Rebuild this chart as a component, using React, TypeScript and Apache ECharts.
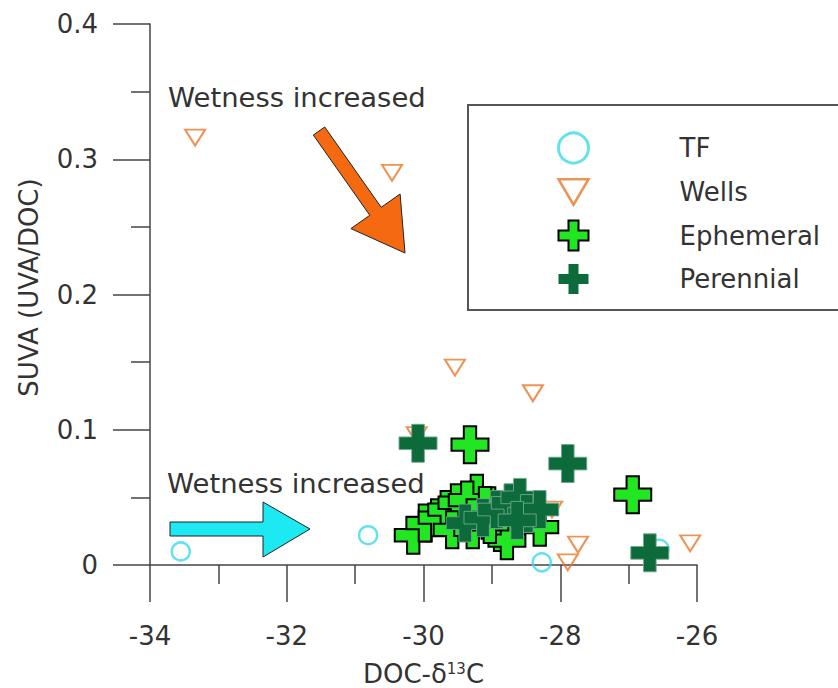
import React, { useEffect, useRef } from "react";
import * as echarts from "echarts";

// ---- data ----
const seriesNames = ["TF", "Wells", "Ephemeral", "Perennial"];

const tfData: number[][] = [
  [-33.55, 0.010],
  [-30.81, 0.022],
  [-28.27, 0.002],
  [-26.55, 0.012],
];

const wellsData: number[][] = [
  [-33.34, 0.316],
  [-30.46, 0.290],
  [-29.54, 0.146],
  [-28.40, 0.127],
  [-30.10, 0.096],
  [-28.12, 0.041],
  [-27.74, 0.015],
  [-27.89, 0.002],
  [-26.10, 0.016],
];

const ephemeralData: number[][] = [
  [-29.32, 0.089],
  [-26.94, 0.052],
  [-30.15, 0.022],
  [-29.22, 0.053],
  [-29.98, 0.031],
  [-29.80, 0.035],
  [-29.66, 0.041],
  [-29.51, 0.046],
  [-29.36, 0.048],
  [-29.58, 0.026],
  [-29.28, 0.026],
  [-28.88, 0.024],
  [-28.78, 0.018],
  [-28.30, 0.028],
  [-29.03, 0.030],
  [-29.10, 0.044],
];

const perennialData: number[][] = [
  [-30.08, 0.090],
  [-27.89, 0.075],
  [-26.69, 0.009],
  [-29.39, 0.031],
  [-29.13, 0.035],
  [-28.93, 0.041],
  [-28.73, 0.046],
  [-28.59, 0.050],
  [-28.49, 0.038],
  [-28.30, 0.041],
  [-28.63, 0.033],
];

const xRange = [-34, -26];
const yRange = [0, 0.4];

const PLUS = "path://M1,0 H2 V1 H3 V2 H2 V3 H1 V2 H0 V1 H1 Z";
const TRI_DOWN = "path://M0,0 L2,0 L1,1.7 Z";

const FONT = "DejaVu Sans, Liberation Sans, Arial, sans-serif";
const FS = 26;
const TXT = "#333";
const AX = "#444";

export default function App() {
  const ref = useRef<HTMLDivElement>(null);

  useEffect(() => {
    if (!ref.current) return;
    const chart = echarts.init(ref.current, undefined, { renderer: "svg" });

    const cyan = "#3FD9E8";
    const orange = "#E8782A";
    const green = "#22E622";
    const dark = "#0C6A3B";

    chart.setOption({
      animation: false,
      backgroundColor: "#fff",
      textStyle: { fontFamily: FONT },
      grid: {
        left: 150,
        right: 141,
        top: 24,
        bottom: 123,
        containLabel: false,
        outerBoundsMode: "none",
      },
      xAxis: {
        type: "value",
        min: xRange[0],
        max: xRange[1],
        interval: 2,
        name: "DOC-δ{sup|13}C",
        nameLocation: "middle",
        nameGap: 96,
        nameTextStyle: {
          color: TXT,
          fontSize: FS,
          fontFamily: FONT,
          lineHeight: 26,
          rich: { sup: { fontSize: 15, lineHeight: 26, verticalAlign: "top", color: TXT, fontFamily: FONT } },
        },
        axisLine: { show: true, onZero: false, lineStyle: { color: AX, width: 1.5 } },
        axisTick: { show: true, inside: false, length: 37, lineStyle: { color: AX, width: 1.5 } },
        minorTick: { show: true, splitNumber: 2, length: 19, lineStyle: { color: AX, width: 1.5 } },
        splitLine: { show: false },
        axisLabel: { color: TXT, fontSize: FS, fontFamily: FONT, margin: 58 },
      },
      yAxis: {
        type: "value",
        min: yRange[0],
        max: yRange[1],
        interval: 0.1,
        name: "SUVA (UVA/DOC)",
        nameLocation: "middle",
        nameGap: 108,
        nameTextStyle: { color: TXT, fontSize: FS, fontFamily: FONT, padding: [0, 0, 0, 14] },
        axisLine: { show: true, onZero: false, lineStyle: { color: AX, width: 1.5 } },
        axisTick: { show: true, inside: false, length: 37, lineStyle: { color: AX, width: 1.5 } },
        minorTick: { show: true, splitNumber: 2, length: 19, lineStyle: { color: AX, width: 1.5 } },
        splitLine: { show: false },
        axisLabel: { color: TXT, fontSize: FS, fontFamily: FONT, margin: 52 },
      },
      legend: {
        orient: "vertical",
        left: 557,
        top: 131.5,
        padding: 0,
        itemWidth: 30,
        itemHeight: 30,
        itemGap: 12.5,
        symbolKeepAspect: true,
        selectedMode: false,
        formatter: (name: string) => `{t|${name}}`,
        textStyle: {
          color: TXT,
          fontSize: FS,
          fontFamily: FONT,
          lineHeight: 30,
          rich: { t: { color: TXT, fontSize: FS, fontFamily: FONT, lineHeight: 30, padding: [0, 0, 0, 86] } },
        },
        data: [
          { name: seriesNames[0], icon: "circle", itemStyle: { color: "rgba(255,255,255,0)", borderColor: cyan, borderWidth: 3 } },
          { name: seriesNames[1], icon: TRI_DOWN, itemStyle: { color: "rgba(255,255,255,0)", borderColor: orange, borderWidth: 2.5 } },
          { name: seriesNames[2], icon: PLUS, itemStyle: { color: green, borderColor: "#000", borderWidth: 2 } },
          { name: seriesNames[3], icon: PLUS, itemStyle: { color: dark, borderColor: dark, borderWidth: 0 } },
        ],
      },
      graphic: [
        {
          type: "rect",
          z: 0,
          shape: { x: 468, y: 105, width: 400, height: 205 },
          style: { fill: "rgba(0,0,0,0)", stroke: "#555", lineWidth: 2 },
        },
        {
          type: "text",
          x: 168,
          y: 85,
          scaleX: 1.055,
          style: { text: "Wetness increased", fill: TXT, font: `${FS}px ${FONT}`, verticalAlign: "top" },
        },
        {
          type: "text",
          x: 167,
          y: 471,
          scaleX: 1.055,
          style: { text: "Wetness increased", fill: TXT, font: `${FS}px ${FONT}`, verticalAlign: "top" },
        },
        {
          type: "polygon",
          z: 5,
          shape: {
            points: [
              [324.7, 127], [381.2, 207.3], [400.1, 194], [405, 253],
              [350.9, 228.6], [369.8, 215.3], [313.3, 135],
            ],
          },
          style: { fill: "#F56A10", stroke: "#222", lineWidth: 1 },
        },
        {
          type: "polygon",
          z: 5,
          shape: {
            points: [
              [170, 522], [263, 522], [263, 502], [310, 529],
              [263, 557], [263, 536], [170, 536],
            ],
          },
          style: { fill: "#1CE9F2", stroke: "#222", lineWidth: 1 },
        },
      ],
      series: [
        {
          name: seriesNames[0],
          type: "scatter",
          data: tfData,
          symbol: "circle",
          symbolSize: 18,
          itemStyle: { color: "rgba(255,255,255,0)", borderColor: cyan, borderWidth: 2.5 },
          z: 2,
        },
        {
          name: seriesNames[1],
          type: "scatter",
          data: wellsData,
          symbol: TRI_DOWN,
          symbolSize: [20, 16],
          itemStyle: { color: "rgba(255,255,255,0)", borderColor: orange, borderWidth: 2 },
          z: 2,
        },
        {
          name: seriesNames[2],
          type: "scatter",
          data: ephemeralData,
          symbol: PLUS,
          symbolSize: 37,
          itemStyle: { color: green, borderColor: "#000", borderWidth: 2, opacity: 1 },
          z: 3,
        },
        {
          name: seriesNames[3],
          type: "scatter",
          data: perennialData,
          symbol: PLUS,
          symbolSize: 38,
          itemStyle: { color: dark, borderColor: "rgba(110,170,140,0.9)", borderWidth: 1, opacity: 1 },
          z: 4,
        },
      ],
    });

    return () => chart.dispose();
  }, []);

  return (
    <div
      ref={ref}
      style={{ position: "fixed", left: 0, top: 0, width: 838, height: 688, background: "#fff" }}
    />
  );
}
